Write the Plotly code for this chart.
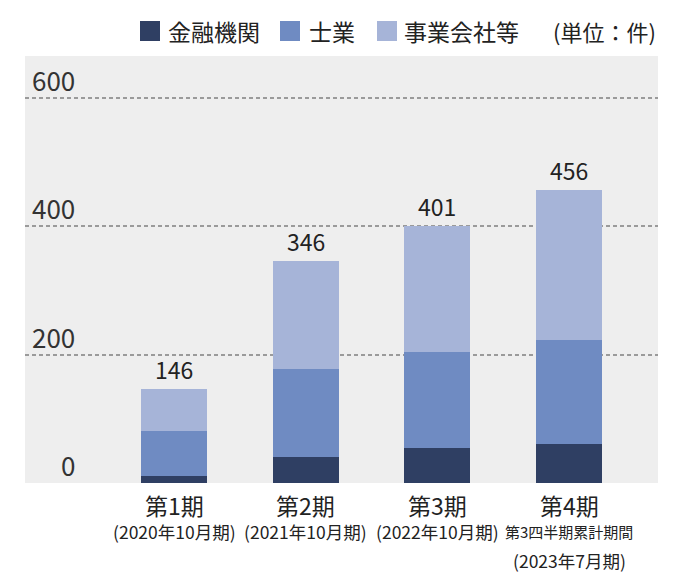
import plotly.graph_objects as go

categories = ["第1期", "第2期", "第3期", "第4期"]
sub_labels = ["(2020年10月期)", "(2021年10月期)", "(2022年10月期)", "第3四半期累計期間<br>(2023年7月期)"]
series_names = ["金融機関", "士業", "事業会社等"]
financial = [11, 41, 54, 61]
professional = [70, 137, 150, 162]
companies = [65, 168, 197, 233]
totals = [146, 346, 401, 456]
y_ticks = [0, 200, 400, 600]
unit_label = "(単位：件)"

colors = ["#2f3f63", "#6f8bc2", "#a6b4d8"]
FONT = "Noto Sans CJK JP"
W, H = 678, 584
OFF = 8  # page body margin
L, T = 25 - OFF, 56 - OFF
R = W - (658 - OFF)
B = H - (483.3 - OFF)
PW, PH = W - L - R, H - T - B


def px_x(px):
    return (px - OFF - L) / PW


def px_y(py):
    return (H - B - (py - OFF)) / PH


fig = go.Figure()
for name, vals, c in zip(series_names, [financial, professional, companies], colors):
    fig.add_trace(go.Bar(x=categories, y=vals, name=name, marker=dict(color=c, line=dict(width=0)),
                         width=0.5, showlegend=False, hoverinfo="skip"))

ann = []
for cat, t in zip(categories, totals):
    ann.append(dict(x=cat, y=t, xref="x", yref="y", text=str(t), showarrow=False,
                    yanchor="bottom", yshift=1, font=dict(family=FONT, size=23, color="#222")))
for v in y_ticks:
    ann.append(dict(x=0, y=v, xref="paper", yref="y", text=str(v), showarrow=False,
                    xanchor="right", xshift=52, yanchor="bottom", yshift=-2,
                    font=dict(family=FONT, size=26, color="#333")))
for cat, sub in zip(categories, sub_labels):
    ann.append(dict(x=cat, y=0, xref="x", yref="paper", text=cat, showarrow=False,
                    yanchor="middle", yshift=-22, font=dict(family=FONT, size=23, color="#222")))
    lines = sub.split("<br>")
    for i, ln in enumerate(lines):
        ann.append(dict(x=cat, y=0, xref="x", yref="paper", text=ln, showarrow=False,
                        yanchor="middle", yshift=-48 - 29 * i,
                        font=dict(family=FONT, size=15 if len(ln) == 9 else 17.5, color="#222")))

leg_sq = [140, 280, 377]
leg_tx = [166, 307, 402]
shapes = []
for sx, tx, name, c in zip(leg_sq, leg_tx, series_names, colors):
    shapes.append(dict(type="rect", xref="paper", yref="paper", x0=px_x(sx), x1=px_x(sx + 20),
                       y0=px_y(41), y1=px_y(21), fillcolor=c, line=dict(width=0)))
    ann.append(dict(x=px_x(tx), y=px_y(31), xref="paper", yref="paper", text=name, showarrow=False,
                    xanchor="left", yanchor="middle", font=dict(family=FONT, size=23, color="#222")))
ann.append(dict(x=px_x(658), y=px_y(31), xref="paper", yref="paper", text=unit_label, showarrow=False,
                xanchor="right", yanchor="middle", font=dict(family=FONT, size=22, color="#222")))

bw = 131.7
x0 = (25 - 174) / bw
x1 = (658 - 174) / bw

fig.update_layout(
    width=W, height=H, barmode="stack",
    margin=dict(l=L, r=R, t=T, b=B, pad=0),
    paper_bgcolor="white", plot_bgcolor="#eeeeee",
    font=dict(family=FONT),
    xaxis=dict(type="category", range=[x0, x1], showticklabels=False, showgrid=False,
               zeroline=False, showline=False, ticks="", fixedrange=True),
    yaxis=dict(range=[0, 665], tickvals=y_ticks, showticklabels=False, showgrid=True,
               gridcolor="#9a9a9a", gridwidth=1.5, griddash="4px,3px", zeroline=False,
               showline=False, ticks="", fixedrange=True),
    annotations=ann, shapes=shapes, showlegend=False,
)

fig.write_html("out.html")
